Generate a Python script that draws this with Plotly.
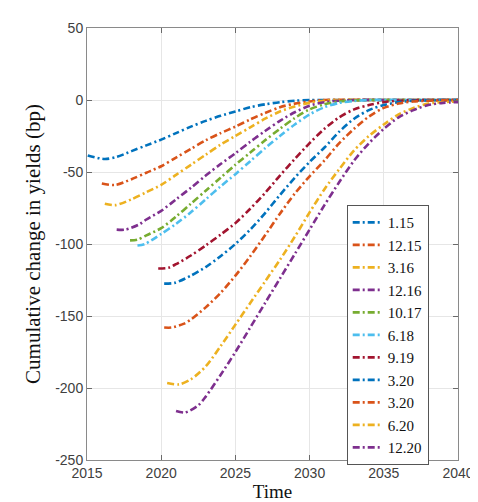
import plotly.graph_objects as go

# ---- data ----
labels = ["1.15", "12.15", "3.16", "12.16", "10.17", "6.18", "9.19", "3.20", "3.20", "6.20", "12.20"]
colors = ["#0072BD", "#D95319", "#EDB120", "#7E2F8E", "#77AC30", "#4DBEEE", "#A2142F",
          "#0072BD", "#D95319", "#EDB120", "#7E2F8E"]

x_1_15 = [2015.05, 2016.2, 2017, 2018, 2019, 2020, 2021, 2022, 2023, 2024, 2025, 2026, 2027, 2028, 2029, 2030, 2032, 2035, 2040]
y_1_15 = [-38.5, -41, -39.5, -35.5, -31.5, -27.5, -23, -18.5, -14.5, -11, -8, -5, -3, -1.5, -0.5, 0, 0, 0, 0]

x_12_15 = [2016.0, 2016.9, 2018, 2019, 2020, 2021, 2022, 2023, 2024, 2025, 2026, 2027, 2028, 2029, 2030, 2031, 2035, 2040]
y_12_15 = [-58, -59, -55, -50.5, -46, -40, -34, -28, -23, -18.5, -13.5, -9, -5, -2.5, -1, 0, 0, 0]

x_3_16 = [2016.2, 2016.9, 2018, 2019, 2020, 2021, 2022, 2023, 2024, 2025, 2026, 2027, 2028, 2029, 2030, 2031, 2032, 2035, 2040]
y_3_16 = [-72, -73, -69, -64, -59, -52, -45, -38, -31, -25, -19, -13, -8, -4.5, -2, -0.5, 0, 0, 0]

x_12_16 = [2017.0, 2017.6, 2018.5, 2019, 2020, 2021, 2022, 2023, 2024, 2025, 2026, 2027, 2028, 2029, 2030, 2031, 2032, 2033, 2036, 2040]
y_12_16 = [-90, -90, -86.5, -83, -77, -69, -61, -52.5, -44.5, -37, -29, -21.5, -14.5, -8.5, -4, -1.5, -0.5, 0, 0, 0]

x_10_17 = [2017.9, 2018.4, 2019, 2020, 2021, 2022, 2023, 2024, 2025, 2026, 2027, 2028, 2029, 2030, 2031, 2032, 2033, 2034, 2037, 2040]
y_10_17 = [-97.5, -97, -94, -89, -81, -72, -63, -54, -45, -36.5, -28, -20, -12.5, -6.5, -3, -1, -0.3, 0, 0, 0]

x_6_18 = [2018.4, 2018.9, 2020, 2021, 2022, 2023, 2024, 2025, 2026, 2027, 2028, 2029, 2030, 2031, 2032, 2033, 2034, 2037, 2040]
y_6_18 = [-101, -100, -93, -86, -78, -69, -60, -51.5, -42.5, -33.5, -25, -17, -10, -5, -2, -0.7, 0, 0, 0]

x_9_19 = [2019.8, 2020.5, 2021, 2022, 2023, 2024, 2025, 2026, 2027, 2028, 2029, 2030, 2031, 2032, 2033, 2034, 2035, 2036, 2038, 2040]
y_9_19 = [-117, -116.5, -114, -108, -101, -93.5, -85.5, -75.5, -64.5, -52.5, -41, -30, -20, -12, -6.5, -3.5, -1.5, -0.5, 0, 0]

x_3_20a = [2020.2, 2020.9, 2022, 2023, 2024, 2025, 2026, 2027, 2028, 2029, 2030, 2031, 2032, 2033, 2034, 2035, 2036, 2037, 2040]
y_3_20a = [-127.5, -127, -122, -116, -108.5, -100, -90, -78.5, -66, -54, -43, -33, -22, -13, -7, -3.5, -1.5, -0.5, 0]

x_3_20b = [2020.2, 2020.7, 2021.5, 2022, 2023, 2024, 2025, 2026, 2027, 2028, 2029, 2030, 2031, 2032, 2033, 2034, 2035, 2036, 2037, 2038, 2040]
y_3_20b = [-158, -158, -155.5, -152.5, -144, -134, -122, -108.5, -94, -79, -65, -53, -42, -30, -20, -11.5, -5.5, -2.5, -1, -0.5, 0]

x_6_20 = [2020.4, 2021.2, 2022, 2023, 2024, 2025, 2026, 2027, 2028, 2029, 2030, 2031, 2032, 2033, 2034, 2035, 2036, 2037, 2038, 2039, 2040]
y_6_20 = [-196.5, -197.5, -194, -185, -171, -156, -141, -126, -111, -95, -78, -62, -48, -35, -25, -17, -10, -5.5, -2.5, -1.5, -1]

x_12_20 = [2021.0, 2021.6, 2022.5, 2023, 2024, 2025, 2026, 2027, 2028, 2029, 2030, 2031, 2032, 2033, 2034, 2035, 2036, 2037, 2038, 2039, 2040]
y_12_20 = [-216, -217, -212, -206, -191, -175, -158, -141, -124, -107, -90, -73, -57, -42, -30, -20, -12, -7, -3.5, -2, -1.5]

series_x = [x_1_15, x_12_15, x_3_16, x_12_16, x_10_17, x_6_18, x_9_19, x_3_20a, x_3_20b, x_6_20, x_12_20]
series_y = [y_1_15, y_12_15, y_3_16, y_12_16, y_10_17, y_6_18, y_9_19, y_3_20a, y_3_20b, y_6_20, y_12_20]

x_ticks = [2015, 2020, 2025, 2030, 2035, 2040]
y_ticks = [50, 0, -50, -100, -150, -200, -250]

fig = go.Figure()
for lab, col, xs, ys in zip(labels, colors, series_x, series_y):
    fig.add_trace(go.Scatter(
        x=xs, y=ys, name=lab, mode="lines",
        line=dict(color=col, width=2.6, dash="7px,3px,2px,3px", shape="spline", smoothing=0.8),
    ))

axis_common = dict(
    showline=True, linecolor="#8a8a8a", linewidth=1, mirror="ticks",
    ticks="inside", ticklen=5, tickcolor="#6a6a6a",
    showgrid=True, gridcolor="#e6e6e6", gridwidth=1, zeroline=False,
    tickfont=dict(family="Liberation Sans, Arial, sans-serif", size=14, color="#404040"),
)

fig.update_xaxes(range=[2015, 2040], tickvals=x_ticks, ticktext=[str(v) for v in x_ticks],
                 title=dict(text="Time", font=dict(family="Liberation Serif, serif", size=19, color="#111"),
                            standoff=4),
                 **axis_common)
fig.update_yaxes(range=[-250, 50], tickvals=y_ticks, ticktext=[str(v) for v in y_ticks],
                 title=dict(text="Cumulative change in yields (bp)",
                            font=dict(family="Liberation Serif, serif", size=21, color="#111"), standoff=8),
                 **axis_common)

fig.update_layout(
    width=478, height=502,
    margin=dict(l=79, r=18, t=20, b=47),
    paper_bgcolor="white", plot_bgcolor="white",
    showlegend=True,
    legend=dict(
        x=0.70, y=0.59, xanchor="left", yanchor="top",
        bgcolor="white", bordercolor="#555555", borderwidth=1,
        font=dict(family="Liberation Serif, serif", size=15, color="#111"),
        tracegroupgap=0, itemwidth=30, entrywidth=52,
    ),
)

fig.write_html("out.html")
